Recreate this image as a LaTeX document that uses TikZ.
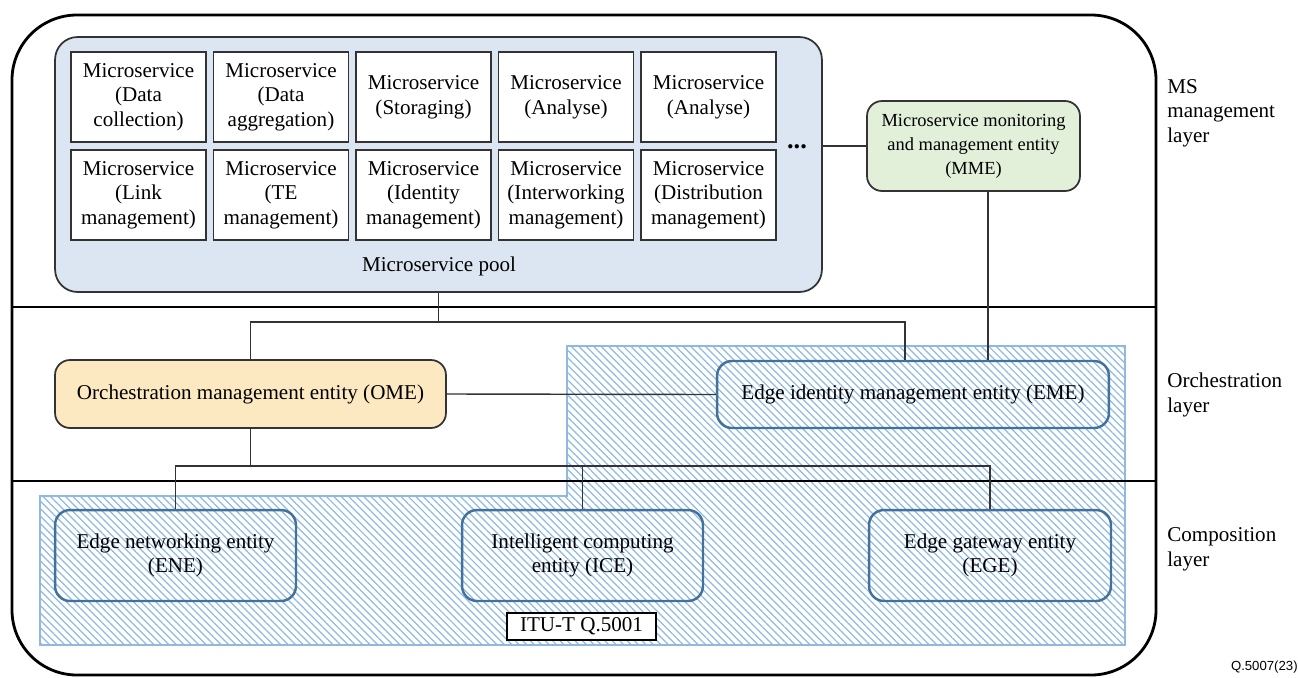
\documentclass[tikz,border=0pt]{standalone}
\usepackage{fontspec}
\setmainfont{Liberation Serif}
\newfontfamily\figsans{Liberation Sans}
\usepackage{tikz}
\usetikzlibrary{positioning}
\usetikzlibrary{patterns.meta}
\definecolor{poolblue}{HTML}{DCE6F2}
\definecolor{mmegreen}{HTML}{E2EFD9}
\definecolor{omeorange}{HTML}{FDE9C1}
\definecolor{entblue}{HTML}{41719C}
\definecolor{hatchblue}{HTML}{8FB9E1}
\definecolor{edgegray}{HTML}{333333}
\tikzset{msbox/.style = {draw = edgegray, fill = white, line width = 1pt,
                         minimum width = 2.7cm, minimum height = 1.8cm,
                         align = center, inner sep = 0}}
\tikzset{entity/.style = {draw = entblue, line width = 1.4pt, rounded corners = 0.3cm,
                          align = center, inner sep = 0}}
\tikzset{mgmt/.style = {draw = edgegray, line width = 1pt, rounded corners = 0.3cm,
                        align = center, inner sep = 0}}
\tikzset{layerline/.style = {line width = 1.5pt}}
\tikzset{link/.style = {draw = edgegray, line width = 0.8pt}}
\tikzset{layertext/.style = {anchor = west, align = left, inner sep = 0}}

\begin{document}
\begin{tikzpicture}[x = 0.02cm, y = -0.02cm,
    font = \fontsize{12}{14}\selectfont]
    \useasboundingbox (0, 0) rectangle (1298, 677);
    % edge area
    \fill [pattern = {Lines[angle = -45, distance = 3pt, line width = 0.7pt]},
           pattern color = hatchblue]
      (567, 346) -- (1125, 346) -- (1125, 645) -- (40, 645) -- (40, 496) -- (567, 496) -- cycle;
    \draw [hatchblue, line width = 0.6pt]
      (567, 346) -- (1125, 346) -- (1125, 645) -- (40, 645) -- (40, 496) -- (567, 496) -- cycle;

    % layers
    \draw [line width = 1.6pt, rounded corners = 1.3cm] (12, 15) rectangle (1156, 675);
    \draw [layerline] (12, 307) -- (1156, 307);
    \draw [layerline] (12, 481) -- (1156, 481);
    \node [layertext] (mslayer) at (1167, 113) {MS\\management\\layer};
    \node [layertext] (orchlayer) at (1167, 395) {Orchestration\\layer};
    \node [layertext] (complayer) at (1167, 549) {Composition\\layer};

    % microservice pool
    \node [draw = edgegray, fill = poolblue, line width = 1pt, rounded corners = 0.45cm,
           minimum width = 15.34cm, minimum height = 5.1cm] (pool) at (438.5, 164.5) {};
    \node (poollabel) at (439, 266) {Microservice pool};
    \node [msbox] (ms1) at (138.5, 97) {Microservice\\(Data\\collection)};
    \node [msbox] (ms2) at (281, 97) {Microservice\\(Data\\aggregation)};
    \node [msbox] (ms3) at (423.5, 97) {Microservice\\(Storaging)};
    \node [msbox] (ms4) at (566, 97) {Microservice\\(Analyse)};
    \node [msbox] (ms5) at (708.5, 97) {Microservice\\(Analyse)};
    \node [msbox] (ms6) at (138.5, 195) {Microservice\\(Link\\management)};
    \node [msbox] (ms7) at (281, 195) {Microservice\\(TE\\management)};
    \node [msbox] (ms8) at (423.5, 195) {Microservice\\(Identity\\management)};
    \node [msbox] (ms9) at (566, 195) {Microservice\\(Interworking\\management)};
    \node [msbox] (ms10) at (708.5, 195) {Microservice\\(Distribution\\management)};
    \node [inner sep = 0] (more) at (797, 147) {\fontsize{15}{15}\selectfont\textbf{...}};

    % entities
    \node [mgmt, fill = mmegreen, minimum width = 4.26cm, minimum height = 1.8cm,
           font = \fontsize{10.5}{13.6}\selectfont]
      (mme) at (973.5, 146) {Microservice monitoring\\and management entity\\(MME)};
    \node [mgmt, fill = omeorange, minimum width = 7.82cm, minimum height = 1.36cm]
      (ome) at (250.5, 394) {Orchestration management entity (OME)};
    \node [entity, minimum width = 7.84cm, minimum height = 1.34cm]
      (eme) at (913, 394.5) {Edge identity management entity (EME)};
    \node [entity, minimum width = 4.82cm, minimum height = 1.82cm]
      (ene) at (175.5, 555.5) {Edge networking entity\\(ENE)};
    \node [entity, minimum width = 4.82cm, minimum height = 1.82cm]
      (ice) at (582.5, 555.5) {Intelligent computing\\entity (ICE)};
    \node [entity, minimum width = 4.84cm, minimum height = 1.82cm]
      (ege) at (990, 555.5) {Edge gateway entity\\(EGE)};
    \node [draw, fill = white, line width = 0.8pt, minimum width = 2.98cm, minimum height = 0.54cm,
           inner sep = 0] (itu) at (581.5, 626.5) {ITU-T Q.5001};

    % links
    \draw [link] (mme.west) -- (mme.west -| pool.east);
    \draw [link] (pool.south) -- ++(0, 29) coordinate (jtop);
    \draw [link] (ome.north) |- (jtop) -| ([xshift = -0.16cm]eme.north);
    \draw [link] ([xshift = 0.29cm]mme.south) -- ([xshift = 0.29cm]mme.south |- eme.north);
    \draw [link] (ome.east) -- (eme.west);
    \draw [link] (ome.south) -- ++(0, 37) coordinate (jbot);
    \draw [link] (ene.north) |- (jbot) -| (ege.north);
    \draw [link] (ice.north) -- (ice.north |- jbot);

    \node [anchor = south east, inner sep = 0, font = \figsans\fontsize{7.5}{9}\selectfont]
      (figid) at (1298, 674) {Q.5007(23)};
  \end{tikzpicture}
\end{document}
